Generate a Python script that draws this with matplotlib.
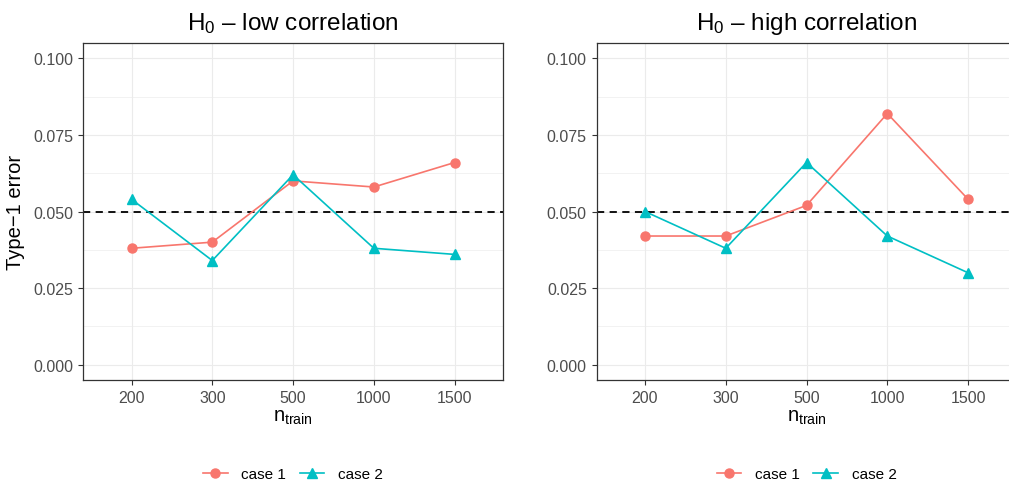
import numpy as np
import matplotlib
matplotlib.use("Agg")
import matplotlib.pyplot as plt

plt.rcParams["font.family"] = ["Liberation Sans", "DejaVu Sans"]
plt.rcParams["mathtext.fontset"] = "custom"
plt.rcParams["mathtext.rm"] = "Liberation Sans"
plt.rcParams["mathtext.it"] = "Liberation Sans:italic"
plt.rcParams["mathtext.bf"] = "Liberation Sans:bold"

# data
n_train = ["200", "300", "500", "1000", "1500"]
low_case1 = [0.038, 0.040, 0.060, 0.058, 0.066]
low_case2 = [0.054, 0.034, 0.062, 0.038, 0.036]
high_case1 = [0.042, 0.042, 0.052, 0.082, 0.054]
high_case2 = [0.050, 0.038, 0.066, 0.042, 0.030]
y_ticks = [0.000, 0.025, 0.050, 0.075, 0.100]
nominal = 0.05

RED = "#F8766D"
CYAN = "#00BFC4"
GRID = "#EBEBEB"
DARK = "#333333"


def draw_panel(ax, case1, case2, title, ylabel=None):
    x = np.arange(1, len(n_train) + 1)
    ax.set_xlim(0.4, len(n_train) + 0.6)
    ax.set_ylim(-0.005, 0.105)

    # ggplot-ish grid (major + minor)
    for xv in x:
        ax.axvline(xv, color=GRID, lw=0.8, zorder=0)
    for yv in y_ticks:
        ax.axhline(yv, color=GRID, lw=0.8, zorder=0)
    for yv in np.array(y_ticks[:-1]) + 0.0125:
        ax.axhline(yv, color=GRID, lw=0.45, zorder=0)

    ax.axhline(nominal, color="black", ls=(0, (4, 3)), lw=1.3, zorder=2)
    ax.plot(x, case1, color=RED, marker="o", ms=6.5, lw=1.2, label="case 1", zorder=3)
    ax.plot(x, case2, color=CYAN, marker="^", ms=7.5, lw=1.2, label="case 2", zorder=3)

    ax.set_xticks(x)
    ax.set_xticklabels(n_train)
    ax.set_yticks(y_ticks)
    ax.set_yticklabels([f"{v:.3f}" for v in y_ticks])
    ax.tick_params(colors=DARK, labelcolor="#4D4D4D", labelsize=11.5,
                   length=3.5, width=0.8)
    for s in ax.spines.values():
        s.set_color(DARK)
        s.set_linewidth(0.9)

    ax.set_title(title, fontsize=17.5, pad=10)
    ax.set_xlabel(r"n$_{\mathrm{train}}$", fontsize=14.5, labelpad=2)
    if ylabel:
        ax.set_ylabel(ylabel, fontsize=14.5, labelpad=6)
    ax.legend(loc="center", bbox_to_anchor=(0.5, -0.279), ncol=2,
              frameon=False, fontsize=11, handlelength=1.6,
              columnspacing=0.9, handletextpad=0.9)


fig = plt.figure(figsize=(10.09, 4.89), dpi=100)
ax1 = fig.add_axes([0.0823, 0.2209, 0.4163, 0.689])
ax2 = fig.add_axes([0.5912, 0.2209, 0.4163, 0.689])

draw_panel(ax1, low_case1, low_case2, r"H$_0$ – low correlation", "Type−1 error")
draw_panel(ax2, high_case1, high_case2, r"H$_0$ – high correlation")

fig.savefig("out.png", dpi=100)
